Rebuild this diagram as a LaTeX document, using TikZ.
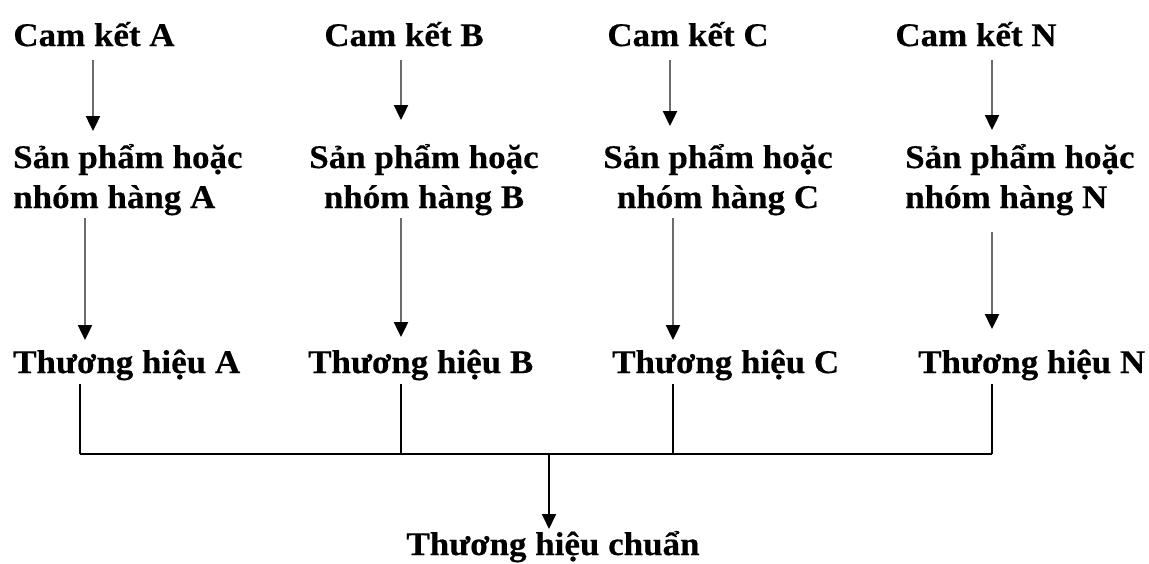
\documentclass[tikz,border=0pt]{standalone}
\usepackage{fontspec}
\setmainfont{Liberation Serif}[FakeStretch=1.06,FakeBold=0.4]
\usetikzlibrary{arrows.meta}
\newcommand{\twoline}[3]{\begin{tabular}[t]{@{}#1@{}}#2\\#3\end{tabular}}
\begin{document}
\begin{tikzpicture}[x=1pt,y=-1pt,
  lbl/.style={inner sep=0pt,font=\fontsize{33}{40}\selectfont\bfseries},
  garr/.style={draw=black!58,line width=2.4pt,-{Triangle[width=14pt,length=15pt,color=black]}},
  barr/.style={draw=black,line width=1.8pt,-{Triangle[width=14pt,length=15pt,color=black]}},
  bline/.style={draw=black,line width=1.6pt}]
\useasboundingbox (0,0) rectangle (1149,563);
% row 1
\node[lbl,anchor=base] (camA) at (94,46) {Cam kết A};
\node[lbl,anchor=base] (camB) at (404,46) {Cam kết B};
\node[lbl,anchor=base] (camC) at (688,46) {Cam kết C};
\node[lbl,anchor=base] (camN) at (976,46) {Cam kết N};
% row 2
\node[lbl,anchor=base west] (spA) at (13,168) {\twoline{l}{Sản phẩm hoặc}{nhóm hàng A}};
\node[lbl,anchor=base] (spB) at (424,168) {\twoline{c}{Sản phẩm hoặc}{nhóm hàng B}};
\node[lbl,anchor=base] (spC) at (718,168) {\twoline{c}{Sản phẩm hoặc}{nhóm hàng C}};
\node[lbl,anchor=base west] (spN) at (905,168) {\twoline{l}{Sản phẩm hoặc}{nhóm hàng N}};
% row 3
\node[lbl,anchor=base west] (thA) at (13,373) {Thương hiệu A};
\node[lbl,anchor=base west] (thB) at (308,373) {Thương hiệu B};
\node[lbl,anchor=base west] (thC) at (612,373) {Thương hiệu C};
\node[lbl,anchor=base west] (thN) at (918,373) {Thương hiệu N};
% bottom
\node[lbl,anchor=base] (thS) at (553,555) {Thương hiệu chuẩn};
% coordinates
\coordinate (a1) at (93,60);  \coordinate (a2) at (93,131);
\coordinate (b1) at (401,60); \coordinate (b2) at (401,120);
\coordinate (c1) at (670,60); \coordinate (c2) at (670,126);
\coordinate (n1) at (992,60); \coordinate (n2) at (992,130);
\coordinate (a3) at (85,218); \coordinate (a4) at (85,340);
\coordinate (b3) at (401,218);\coordinate (b4) at (401,337);
\coordinate (c3) at (673,218);\coordinate (c4) at (673,340);
\coordinate (n3) at (992,232);\coordinate (n4) at (992,329);
\coordinate (a5) at (80,384); \coordinate (a6) at (80,454);
\coordinate (b5) at (401,384);\coordinate (b6) at (401,454);
\coordinate (c5) at (673,384);\coordinate (c6) at (673,454);
\coordinate (n5) at (992,384);\coordinate (n6) at (992,454);
\coordinate (m1) at (549,454);\coordinate (m2) at (549,529);
% arrows
\draw[garr] (a1) -- (a2);
\draw[garr] (b1) -- (b2);
\draw[garr] (c1) -- (c2);
\draw[garr] (n1) -- (n2);
\draw[garr] (a3) -- (a4);
\draw[garr] (b3) -- (b4);
\draw[garr] (c3) -- (c4);
\draw[garr] (n3) -- (n4);
\draw[bline] (a5) -- (a6);
\draw[bline] (b5) -- (b6);
\draw[bline] (c5) -- (c6);
\draw[bline] (n5) -- (n6);
\draw[bline] (a6) -- (n6);
\draw[barr] (m1) -- (m2);
\end{tikzpicture}
\end{document}
